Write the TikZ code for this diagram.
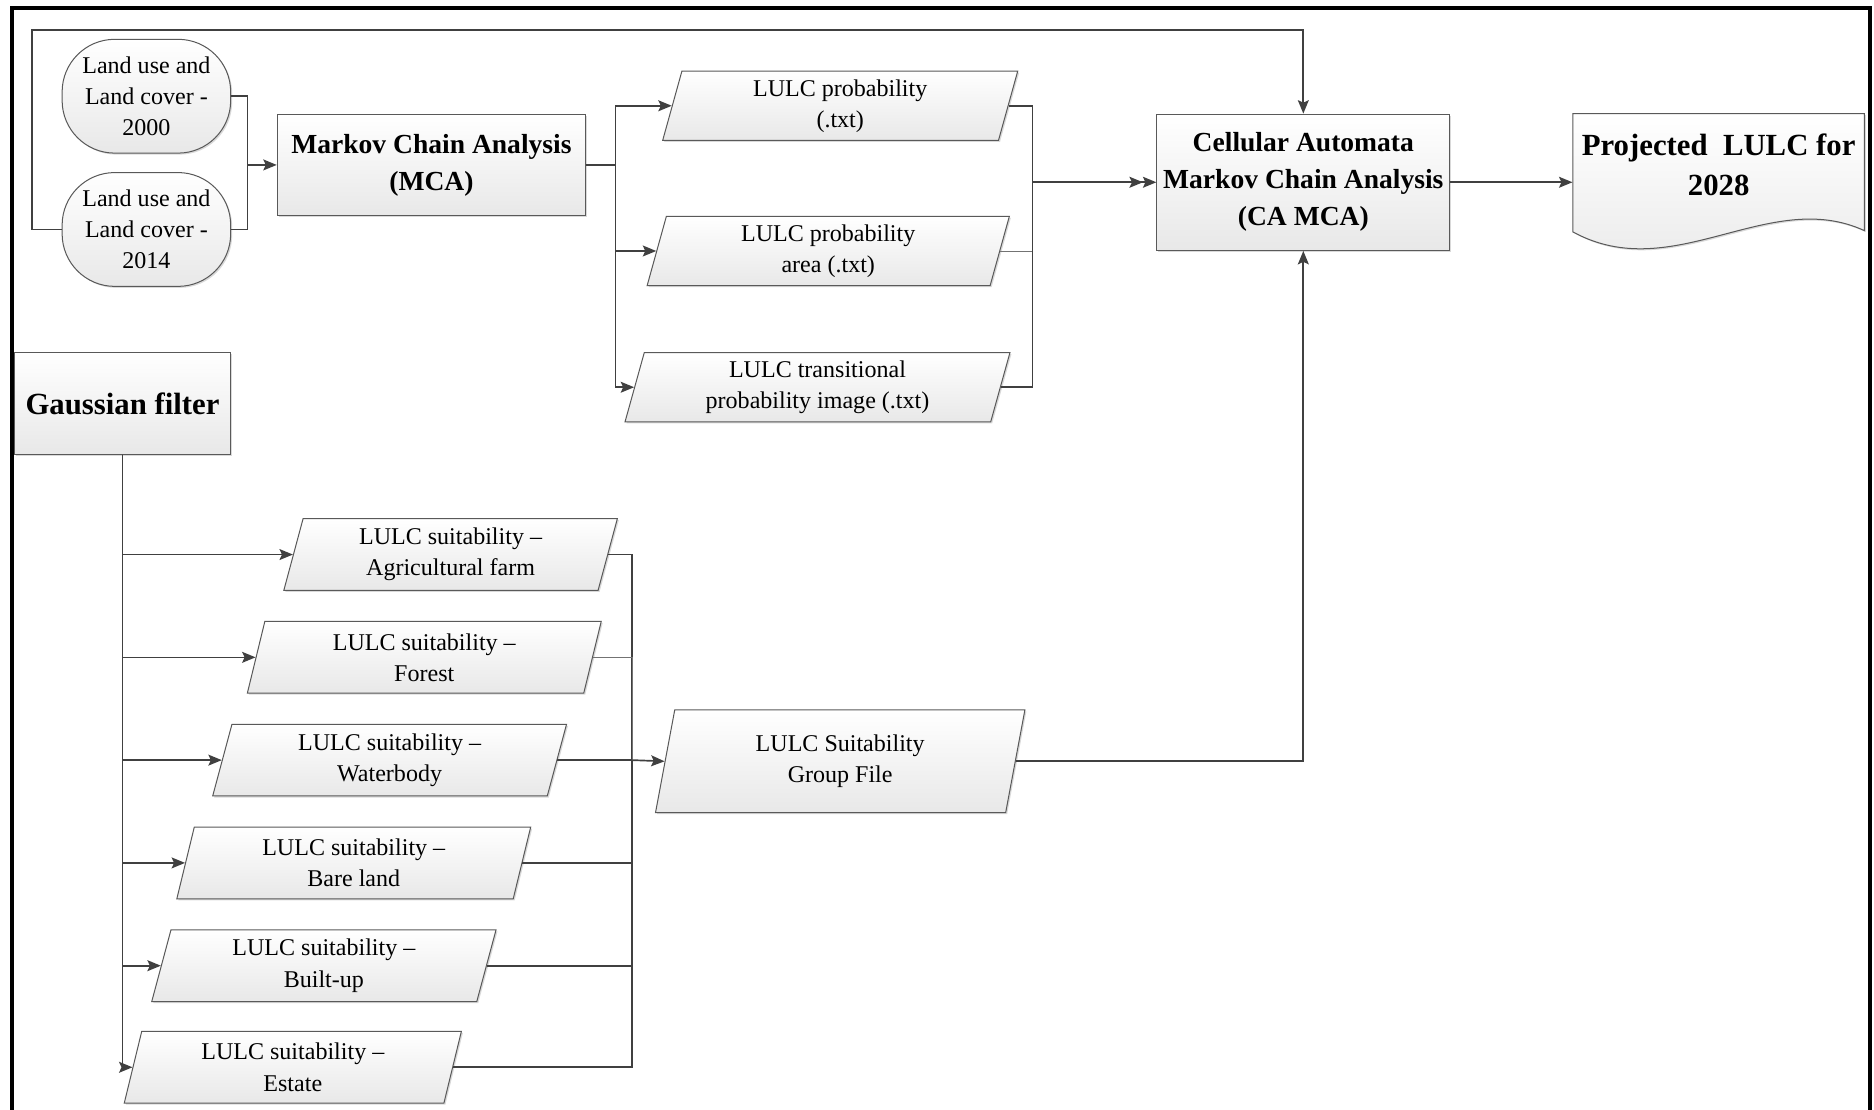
\documentclass[tikz,border=0pt]{standalone}
\usepackage{fontspec}
\setmainfont{Liberation Serif}
\usepackage{tikz}
\usetikzlibrary{shapes}
\usetikzlibrary{arrows.meta}
\usetikzlibrary{shadows}
\newcommand\lulcnorm{\fontsize{14.3}{18.5}\selectfont}
\newcommand\lulcbold{\bfseries\fontsize{16.4}{22}\selectfont}
\newcommand\lulcbig{\bfseries\fontsize{18.3}{24.2}\selectfont}
\tikzset{
	box/.style={draw=black!65, line width=0.6pt, top color=white, bottom color=black!9,
		drop shadow={shadow xshift=0.9pt,shadow yshift=-0.9pt,opacity=0.3}},
	land node/.style={box, rounded corners=1.1cm, minimum width=3.525cm, minimum height=2.38cm,
		align=center, font=\lulcnorm, inner sep=0pt},
	proc node/.style={box, rectangle, align=center, font=\lulcbold, inner sep=0pt},
	data node/.style={box, trapezium, trapezium left angle=70, trapezium right angle=110,
		trapezium stretches body=true, minimum height=1.45cm, align=center, font=\lulcnorm, inner sep=0pt},
	link/.style={draw=black!75, line width=1pt},
	thin link/.style={draw=black!55, line width=0.5pt}
}

\begin{document}
\begin{tikzpicture}[x=0.025cm,y=-0.025cm,>={Stealth[length=8pt,width=6.5pt,inset=1.5pt]}]
	\useasboundingbox (0,0) rectangle (1568,928);
	\draw[line width=2.4pt] (10,940) -- (10,7) -- (1565,7) -- (1565,940);

	\node [land node] (1) at (122.5,80.5) {Land use and\\Land cover -\\2000};
	\node [land node] (2) at (122.5,192) {Land use and\\Land cover -\\2014};
	\node [proc node,minimum width=6.45cm,minimum height=2.1cm] (3) at (361,138) {Markov Chain Analysis\\(MCA)};
	\node [data node,minimum width=7.425cm] (4) at (703,88.5) {LULC probability\\(.txt)};
	\node [data node,minimum width=7.575cm] (5) at (693,210) {LULC probability\\area (.txt)};
	\node [data node,minimum width=8.05cm] (6) at (684,324) {LULC transitional\\probability image (.txt)};
	\node [proc node,minimum width=6.125cm,minimum height=2.85cm] (7) at (1090.5,152.5) {Cellular Automata\\Markov Chain Analysis\\(CA MCA)};
	\path [box] (1316,95) -- (1560,95) -- (1560,193) .. controls (1480,156) and (1400,240) .. (1316,194) -- cycle;
	\node [font=\lulcbig,align=center,minimum width=6.1cm,minimum height=2.45cm,inner sep=0pt] (8) at (1438,138) {Projected\ \ LULC for\\2028};
	\node [proc node,font=\lulcbig,minimum width=4.525cm,minimum height=2.125cm] (9) at (102.5,337.5) {Gaussian filter};
	\node [data node,minimum width=6.975cm,minimum height=1.5cm] (10) at (377,464) {LULC suitability –\\Agricultural farm};
	\node [data node,minimum width=7.4cm,minimum height=1.5cm] (11) at (355,550) {LULC suitability –\\Forest};
	\node [data node,minimum width=7.4cm,minimum height=1.5cm] (12) at (326,636) {LULC suitability –\\Waterbody};
	\node [data node,minimum width=7.4cm,minimum height=1.5cm] (13) at (296,722) {LULC suitability –\\Bare land};
	\node [data node,minimum width=7.2cm,minimum height=1.5cm] (14) at (271,808) {LULC suitability –\\Built-up};
	\node [data node,minimum width=7.05cm,minimum height=1.5cm] (15) at (245,893) {LULC suitability –\\Estate};
	\node [data node,minimum width=7.725cm,minimum height=2.15cm] (16) at (703,637) {LULC Suitability\\Group File};

	\coordinate (a) at (207,138);
	\coordinate (b) at (27,25);
	\coordinate (c) at (515,138);
	\coordinate (d) at (864,152.5);
	\coordinate (e) at (529,636);

	\draw [link] (1.east) -| (a);
	\draw [link] (2.east) -| (a);
	\draw [link,->] (a) -- (3.west);
	\draw [link,->] (2.west) -| (b) -| (7.north);
	\draw [link] (3.east) -- (c);
	\foreach \n in {4,5,6}
		\draw [link,->] (c) |- (\n.west);
	\draw [link] (4.east) -| (d);
	\draw [thin link] (5.east) -| (d);
	\draw [link] (6.east) -| (d);
	\draw [link,->>] (d) -- (7.west);
	\draw [link,->] (7.east) -- (7.east -| 8.west);
	\foreach \n in {10,...,15}
		\draw [link,->] (9.south) |- (\n.west);
	\foreach \n in {10,12,13,14,15}
		\draw [link] (\n.east) -| (e);
	\draw [thin link] (11.east) -| (e);
	\draw [link,->] (e) -- (16.west);
	\draw [link,->] (16.east) -| (7.south);
\end{tikzpicture}
\end{document}
